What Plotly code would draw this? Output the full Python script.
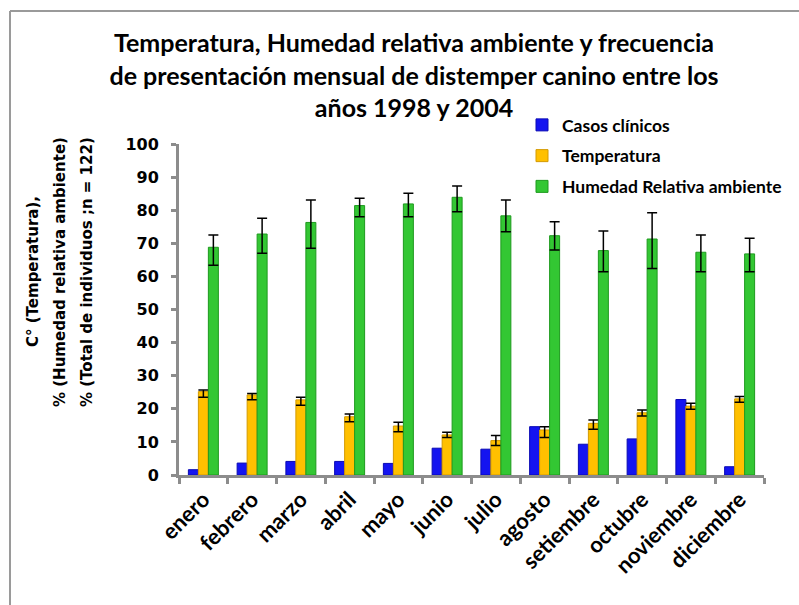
import plotly.graph_objects as go

months = ["enero", "febrero", "marzo", "abril", "mayo", "junio", "julio",
          "agosto", "setiembre", "octubre", "noviembre", "diciembre"]

casos = [1.6, 3.6, 4.1, 4.1, 3.5, 8.1, 7.8, 14.6, 9.3, 10.9, 22.8, 2.5]

temperatura = [25.2, 24.2, 22.7, 17.6, 14.8, 12.1, 10.4, 13.6, 15.6, 18.8, 20.8, 23.0]
temp_err_plus = [0.5, 0.4, 0.8, 0.8, 1.1, 0.8, 1.5, 1.0, 1.0, 0.8, 0.9, 0.7]
temp_err_minus = [1.7, 1.5, 1.6, 1.5, 1.7, 0.8, 1.5, 2.3, 1.8, 1.0, 0.9, 1.0]

humedad = [68.8, 72.8, 76.3, 81.4, 81.9, 83.9, 78.3, 72.3, 67.8, 71.3, 67.3, 66.8]
hum_err_plus = [3.7, 4.8, 6.8, 2.2, 3.2, 3.4, 4.8, 4.2, 5.9, 7.9, 5.2, 4.7]
hum_err_minus = [5.4, 5.8, 7.8, 3.4, 3.9, 4.4, 4.8, 4.3, 6.4, 8.9, 5.9, 5.4]

y_ticks = list(range(0, 101, 10))

title_text = ("Temperatura, Humedad relativa ambiente y frecuencia<br>"
              "de presentación mensual de distemper canino entre los<br>"
              "años 1998 y 2004")
y_title_lines = ["C° (Temperatura),",
                 "% (Humedad relativa ambiente)",
                 "% (Total de individuos ;n = 122)"]

W, H = 799, 605
L, R, T, B = 179, 35, 144, 130
pw, ph = W - L - R, H - T - B


def px_x(p):
    return (p - L) / pw


def px_y(p):
    return (H - B - p) / ph


fig = go.Figure()
fig.add_trace(go.Bar(
    x=months, y=casos, name="Casos clínicos", legendgroup="a",
    marker=dict(color="#1414F0", line=dict(color="#0A0AB4", width=1)),
))
fig.add_trace(go.Bar(
    x=months, y=temperatura, name="Temperatura", legendgroup="b",
    marker=dict(color="#FFC000", line=dict(color="#D49A00", width=1)),
    error_y=dict(type="data", symmetric=False, array=temp_err_plus,
                 arrayminus=temp_err_minus, color="black", thickness=1.5, width=5),
))
fig.add_trace(go.Bar(
    x=months, y=humedad, name="Humedad Relativa ambiente", legendgroup="c",
    marker=dict(color="#33C733", line=dict(color="#1E9A1E", width=1)),
    error_y=dict(type="data", symmetric=False, array=hum_err_plus,
                 arrayminus=hum_err_minus, color="black", thickness=1.5, width=5),
))

axis_gray = "#8C8C8C"

fig.update_layout(
    width=W, height=H,
    margin=dict(l=L, r=R, t=T, b=B),
    paper_bgcolor="white", plot_bgcolor="white",
    barmode="group", bargap=0.385, bargroupgap=0,
    title=dict(text=title_text, x=414 / W, xanchor="center",
               y=1 - 52 / H, yanchor="top",
               font=dict(family="Lato", size=25, color="black", weight="bold")),
    showlegend=True,
    legend=dict(x=px_x(522), y=px_y(107), xanchor="left", yanchor="top",
                font=dict(family="Lato", size=17.5, color="black", weight="bold"),
                tracegroupgap=5, bgcolor="rgba(0,0,0,0)"),
    xaxis=dict(
        type="category", showline=True, linecolor=axis_gray, linewidth=3,
        ticks="outside", tickson="boundaries", ticklen=6, tickwidth=3,
        tickcolor=axis_gray, tickangle=-45, showgrid=False,
        tickfont=dict(family="Lato", size=22, color="black", weight="bold"),
    ),
    yaxis=dict(
        range=[0, 100], tickvals=y_ticks, showline=True, linecolor=axis_gray,
        linewidth=3, ticks="outside", ticklen=5, tickwidth=3, tickcolor=axis_gray,
        showgrid=False, zeroline=False, ticklabelstandoff=9,
        tickfont=dict(family="DejaVu Sans", size=16, color="black", weight="bold"),
    ),
)

for line, cx in zip(y_title_lines, [33, 60, 87]):
    fig.add_annotation(
        text=line, textangle=-90, showarrow=False,
        xref="paper", yref="paper", x=px_x(cx), y=px_y(272),
        xanchor="center", yanchor="middle",
        font=dict(family="DejaVu Sans", size=15, color="black", weight="bold"),
    )

# outer frame (top and left edges visible in the reference)
fig.add_shape(type="line", xref="paper", yref="paper",
              x0=px_x(10), x1=px_x(W + 5), y0=px_y(11), y1=px_y(11),
              line=dict(color="#9A9A9A", width=2))
fig.add_shape(type="line", xref="paper", yref="paper",
              x0=px_x(10), x1=px_x(10), y0=px_y(11), y1=px_y(H + 5),
              line=dict(color="#9A9A9A", width=2))

fig.write_html("out.html", config={"displayModeBar": False},
               post_script="document.body.style.margin='0';")
